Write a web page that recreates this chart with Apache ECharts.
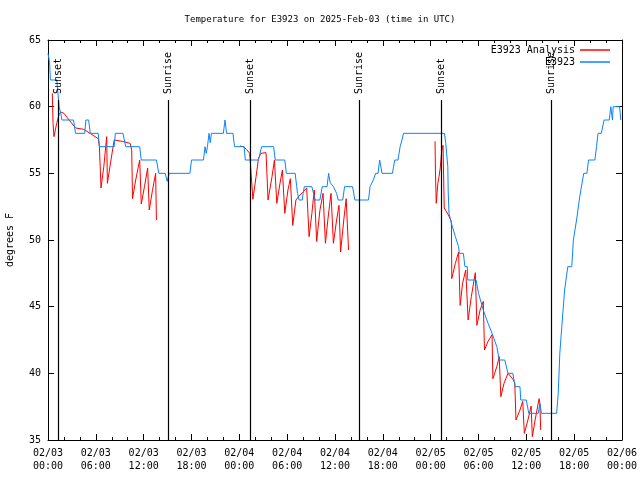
<!DOCTYPE html>
<html>
<head>
<meta charset="utf-8">
<script src="https://cdn.jsdelivr.net/npm/echarts@6/dist/echarts.min.js"></script>
<style>html,body{margin:0;padding:0;background:#fff}#c{width:640px;height:480px}</style>
</head>
<body>
<div id="c"></div>
<script>
// hours since 2025-02-03 00:00 UTC, degrees F
const obsData = [
[0,64],[0.2,63.3],[0.3,62],[1.1,62],[1.25,61],[1.4,60],[1.6,59.5],[1.75,59],[3.2,59],[3.45,58],[4.6,58],[4.75,59],[5.1,59],[5.3,58],[6.3,58],[6.45,57],[8.3,57],[8.45,58],[9.4,58],[9.75,57],[11.5,57],[11.7,56],[13.6,56],[13.9,55],[14.7,55],[14.95,54.4],[15.2,55],[17.8,55],[18.0,56],[19.5,56],[19.7,57],[19.85,56.5],[20.0,57],[20.2,58],[20.35,57.3],[20.5,58],[22.0,58],[22.2,59],[22.4,58],[23.2,58],[23.4,57],[24.6,57],[24.75,56],[26.4,56],[26.6,56.5],[26.8,57],[28.3,57],[28.5,56],[29.7,56],[29.9,55],[31.0,55],[31.2,54],[31.3,53.5],[31.5,53],[31.9,53],[32.0,53.5],[32.15,54],[33.1,54],[33.3,53.5],[33.5,53],[34.1,53],[34.4,54],[35.0,54],[35.2,55],[35.4,54.3],[35.8,54],[36.2,53.5],[36.4,53],[36.97,53],[37.2,54],[38.2,54],[38.5,53],[40.2,53],[40.4,54],[40.8,54.5],[41.1,55],[41.4,55],[41.6,56],[41.9,55],[43.2,55],[43.5,56],[43.9,56],[44.17,57],[44.4,57.5],[44.6,58],[49.73,58],[49.9,57.25],[50.0,56.5],[50.15,55.5],[50.2,53.6],[50.3,52],[50.6,51.25],[51.1,50.25],[51.5,49.5],[51.6,49],[52.1,49],[52.3,48],[52.6,48],[52.65,47],[53.7,47],[54.0,46],[54.6,44.75],[55.2,43.75],[55.7,43],[56.3,42],[56.6,41],[57.3,41],[57.7,40],[58.3,40],[58.6,39],[59.2,39],[59.3,38],[60.0,38],[60.3,37],[61.5,37],[61.7,37.75],[61.9,37],[63.8,37],[64.0,38.5],[64.2,41.5],[64.45,43.5],[64.8,46.25],[65.2,48],[65.7,48],[65.9,50],[66.3,51.5],[66.7,53.25],[67.2,55],[67.6,55],[67.8,56],[68.6,56],[68.8,57],[69.0,58],[69.4,58],[69.76,59],[70.4,59],[70.6,60],[70.8,59],[70.9,60],[71.7,60],[71.85,59]
];
const anaDay1 = [
[0.54,61],[0.63,58.75],[0.75,57.75],[1.09,58.75],[1.38,59.4],[1.59,59.6],[2.0,59.5],[2.64,59],[3.47,58.4],[4.5,58.3],[5.27,58],[6.3,57.6],[6.45,57],[6.65,53.9],[7.0,55.5],[7.36,57.75],[7.45,54.25],[7.9,56],[8.3,57.5],[9.3,57.4],[10.3,57.25],[10.5,56.75],[10.6,53.1],[11.0,54.5],[11.5,56],[11.7,52.7],[12.1,54],[12.5,55.4],[12.7,52.25],[13.1,53.7],[13.5,55],[13.6,51.5]
];
const anaDay2 = [
[24.09,57.05],[24.5,57],[24.9,56.8],[25.3,56.5],[25.7,53.05],[26.1,54.75],[26.4,56.1],[26.7,56.5],[27.35,56.55],[27.6,53],[28.1,54.75],[28.4,56],[28.7,52.75],[29.1,54.25],[29.4,55.25],[29.7,52],[30.1,53.75],[30.4,54.6],[30.7,51.1],[31.1,53],[31.5,53.3],[32.0,53.6],[32.45,53.9],[32.75,50.25],[33.1,52],[33.4,53.75],[33.7,49.9],[34.1,52.2],[34.5,53.5],[34.8,49.75],[35.1,51.5],[35.5,53.5],[35.8,49.75],[36.2,51.5],[36.5,52.6],[36.7,49.1],[37.1,51.5],[37.4,53.1],[37.7,49.25]
];
const anaDay3 = [
[48.55,57.4],[48.6,55.1],[48.7,52.75],[48.9,54.25],[49.05,54.75],[49.2,55.4],[49.4,56.75],[49.55,57.1],[49.7,52.4],[49.85,52.25],[50.2,51.9],[50.6,51.4],[50.65,47.1],[51.1,48.25],[51.5,49.1],[51.7,45.1],[52.0,46.75],[52.4,47.75],[52.7,44],[53.1,45.75],[53.6,47.55],[53.8,43.6],[54.2,44.75],[54.6,45.4],[54.75,41.75],[55.2,42.4],[55.7,42.9],[55.8,39.6],[56.3,40.5],[56.6,41.25],[56.8,38.25],[57.2,39.25],[57.7,40],[58.4,39.5],[58.55,39.25],[58.7,36.5],[59.2,37.25],[59.55,37.9],[59.75,35.5],[60.2,36.5],[60.6,37.55],[60.75,35.25],[61.1,36.5],[61.6,38.1],[61.7,37.75],[61.8,35.75]
];
const sunTimes = [1.25, 15.06, 25.35, 39.0, 49.3, 63.1];
const sunLabels = ['Sunset','Sunrise','Sunset','Sunrise','Sunset','Sunrise'];
const xTicks = {min:0, max:72, step:6};
const yTicks = {min:35, max:65, step:5};

const anaData = anaDay1.concat([[null,null]], anaDay2, [[null,null]], anaDay3);
const FONT = '"DejaVu Sans Mono", "Liberation Mono", monospace';
const SUN_TOP = 60.5;

function fmtX(v){
  const day = 3 + Math.floor(v/24);
  const hh = v % 24;
  return '02/0' + day + '\n' + (hh<10?'0':'') + hh + ':00';
}
const axisCommon = {
  axisLine:{show:true, onZero:false, lineStyle:{color:'#000', width:1}},
  axisTick:{show:true, inside:true, length:6, lineStyle:{color:'#000'}},
  splitLine:{show:false}
};
const chart = echarts.init(document.getElementById('c'), null, {renderer:'canvas'});
chart.setOption({
  animation:false,
  backgroundColor:'#fff',
  title:{text:'Temperature for E3923 on 2025-Feb-03 (time in UTC)', left:'center', top:10,
    textStyle:{fontFamily:FONT, fontSize:9, fontWeight:'normal', color:'#000'}},
  legend:{orient:'vertical', right:25, top:40, align:'right', itemWidth:30, itemHeight:1.5, itemGap:2,
    icon:'rect', data:['E3923 Analysis','E3923'],
    textStyle:{fontFamily:FONT, fontSize:10, color:'#000', padding:[0,0,0,0]}},
  grid:{left:48, right:18, top:40, bottom:40, containLabel:false, outerBoundsMode:'none'},
  xAxis:[
    Object.assign({type:'value', min:xTicks.min, max:xTicks.max, interval:xTicks.step, position:'bottom',
      minorTick:{show:true, splitNumber:3, length:3, lineStyle:{color:'#000'}},
      axisLabel:{formatter:fmtX, fontFamily:FONT, fontSize:10, color:'#000', margin:7, lineHeight:13}}, axisCommon),
    Object.assign({type:'value', min:xTicks.min, max:xTicks.max, interval:xTicks.step, position:'top',
      minorTick:{show:true, splitNumber:3, length:3, lineStyle:{color:'#000'}},
      axisLabel:{show:false}}, axisCommon)
  ],
  yAxis:[
    Object.assign({type:'value', min:yTicks.min, max:yTicks.max, interval:yTicks.step, position:'left',
      name:'degrees F', nameLocation:'middle', nameGap:33,
      nameTextStyle:{fontFamily:FONT, fontSize:10, color:'#000'},
      axisLabel:{fontFamily:FONT, fontSize:10, color:'#000', margin:7}}, axisCommon),
    Object.assign({type:'value', min:yTicks.min, max:yTicks.max, interval:yTicks.step, position:'right',
      axisLabel:{show:false}}, axisCommon)
  ],
  series:[
    {name:'E3923 Analysis', type:'line', data:anaData, showSymbol:false, symbol:'none', connectNulls:false,
      lineStyle:{color:'#ff0000', width:1}, itemStyle:{color:'#ff0000'}, z:3},
    {name:'E3923', type:'line', data:obsData, showSymbol:false, symbol:'none',
      lineStyle:{color:'#0a84ff', width:1}, itemStyle:{color:'#0a84ff'}, z:4},
    {name:'sun', type:'custom', data:sunTimes.map(t=>[t, yTicks.min]), z:5, silent:true,
      renderItem:function(params, api){
        const h = api.value(0);
        const p0 = api.coord([h, yTicks.min]);
        const p1 = api.coord([h, SUN_TOP]);
        const x = Math.round(p0[0]) + 0.5;
        return {type:'group', children:[
          {type:'line', shape:{x1:x, y1:p0[1], x2:x, y2:p1[1]}, style:{stroke:'#000', lineWidth:1.2}},
          {type:'text', x:x, y:p1[1]-6, rotation:Math.PI/2,
            style:{text:sunLabels[params.dataIndex], textAlign:'left', textVerticalAlign:'middle',
              fill:'#000', font:'10px ' + FONT}}
        ]};
      }}
  ]
});
</script>
</body>
</html>
